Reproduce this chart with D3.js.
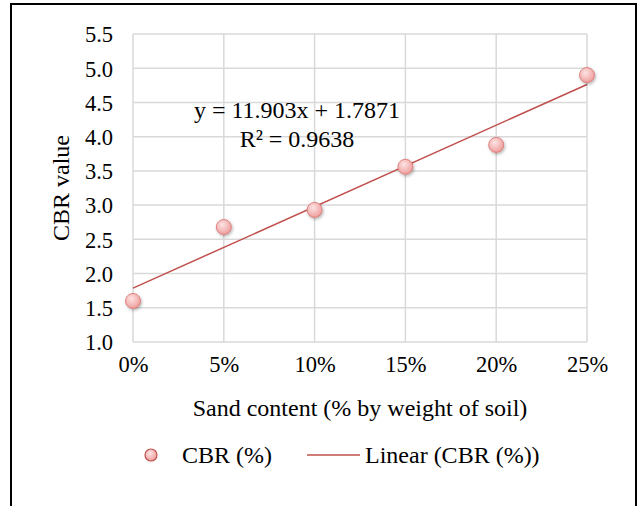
<!DOCTYPE html>
<html>
<head>
<meta charset="utf-8">
<script src="https://cdn.jsdelivr.net/npm/d3@7"></script>
<style>
body { margin: 0; background: #fff; }
text { font-family: "Liberation Serif", "Times New Roman", serif; fill: #000; }
</style>
</head>
<body>
<div id="output"></div>
<script>
var w = 641;
var h = 506;

// data
var sand = [0, 0.05, 0.10, 0.15, 0.20, 0.25];
var cbr = [1.6, 2.68, 2.93, 3.56, 3.88, 4.9];
var xTicks = [0, 0.05, 0.10, 0.15, 0.20, 0.25];
var yTicks = [1.0, 1.5, 2.0, 2.5, 3.0, 3.5, 4.0, 4.5, 5.0, 5.5];
var slope = 11.903;
var intercept = 1.7871;
var eqLabel = 'y = 11.903x + 1.7871';
var r2Label = 'R² = 0.9638';

var plotL = 133, plotR = 587, plotT = 34, plotB = 342;
var red = '#c0504d';
var fs = 22.5;   // tick labels
var fsT = 24;    // titles, legend, equation

var svg = d3.select('#output').append('svg')
	.attr('width', w)
	.attr('height', h);

var defs = svg.append('defs');
var grad = defs.append('radialGradient').attr('id', 'dot')
	.attr('cx', '40%').attr('cy', '35%').attr('r', '70%');
grad.append('stop').attr('offset', '0%').attr('stop-color', '#fde3e3');
grad.append('stop').attr('offset', '100%').attr('stop-color', '#ec9a98');
var shadow = defs.append('filter').attr('id', 'shadow')
	.attr('x', '-50%').attr('y', '-50%').attr('width', '200%').attr('height', '200%');
shadow.append('feDropShadow').attr('dx', 1).attr('dy', 1.5).attr('stdDeviation', 1.5)
	.attr('flood-color', '#000').attr('flood-opacity', 0.3);

// outer frame
svg.append('rect')
	.attr('x', 11).attr('y', 4).attr('width', 625).attr('height', 510)
	.attr('fill', 'none').attr('stroke', '#000').attr('stroke-width', 2);

var x = d3.scaleLinear().domain([0, 0.25]).range([plotL, plotR]);
var y = d3.scaleLinear().domain([1, 5.5]).range([plotB, plotT]);

// grid
svg.append('g').selectAll('line')
	.data(yTicks).enter().append('line')
	.attr('x1', plotL).attr('x2', plotR)
	.attr('y1', function (d) { return y(d); })
	.attr('y2', function (d) { return y(d); })
	.attr('stroke', '#d9d9d9').attr('stroke-width', 1.5);
svg.append('g').selectAll('line')
	.data(xTicks).enter().append('line')
	.attr('y1', plotT).attr('y2', plotB)
	.attr('x1', function (d) { return x(d); })
	.attr('x2', function (d) { return x(d); })
	.attr('stroke', '#d9d9d9').attr('stroke-width', 1.5);

// axes
var yAxis = svg.append('g')
	.attr('transform', 'translate(' + plotL + ',0)')
	.call(d3.axisLeft(y).tickValues(yTicks).tickSize(0).tickPadding(20).tickFormat(d3.format('.1f')));
var xAxis = svg.append('g')
	.attr('transform', 'translate(0,' + plotB + ')')
	.call(d3.axisBottom(x).tickValues(xTicks).tickSize(0).tickPadding(14).tickFormat(d3.format('.0%')));
[xAxis, yAxis].forEach(function (g) {
	g.select('.domain').remove();
	g.selectAll('text').attr('font-family', 'Liberation Serif, Times New Roman, serif')
		.attr('font-size', fs).attr('fill', '#000');
});
yAxis.selectAll('text').attr('dy', '0.35em');

// trendline
var ends = [xTicks[0], xTicks[xTicks.length - 1]];
svg.append('line')
	.attr('x1', x(ends[0])).attr('y1', y(slope * ends[0] + intercept))
	.attr('x2', x(ends[1])).attr('y2', y(slope * ends[1] + intercept))
	.attr('stroke', red).attr('stroke-width', 1.5);

// points
svg.append('g').selectAll('circle')
	.data(sand).enter().append('circle')
	.attr('cx', function (d) { return x(d); })
	.attr('cy', function (d, i) { return y(cbr[i]); })
	.attr('r', 7.5)
	.attr('fill', 'url(#dot)')
	.attr('stroke', '#d9706d').attr('stroke-width', 0.8)
	.attr('filter', 'url(#shadow)');

// equation
svg.append('text').attr('x', 297).attr('y', 118).attr('text-anchor', 'middle')
	.attr('font-size', fsT).text(eqLabel);
svg.append('text').attr('x', 297).attr('y', 147).attr('text-anchor', 'middle')
	.attr('font-size', fsT).text(r2Label);

// axis titles
svg.append('text').attr('x', 360).attr('y', 416).attr('text-anchor', 'middle')
	.attr('font-size', fsT).text('Sand content (% by weight of soil)');
svg.append('text').attr('transform', 'translate(69,188) rotate(-90)')
	.attr('text-anchor', 'middle').attr('font-size', fsT).text('CBR value');

// legend
var lg = svg.append('g');
lg.append('circle').attr('cx', 151).attr('cy', 455).attr('r', 6)
	.attr('fill', 'url(#dot)').attr('stroke', red).attr('stroke-width', 1.2);
lg.append('text').attr('x', 182).attr('y', 463).attr('font-size', fsT).text('CBR (%)');
lg.append('line').attr('x1', 307).attr('x2', 360).attr('y1', 455).attr('y2', 455)
	.attr('stroke', red).attr('stroke-width', 1.5);
lg.append('text').attr('x', 365).attr('y', 463).attr('font-size', fsT).text('Linear (CBR (%))');
</script>
</body>
</html>
